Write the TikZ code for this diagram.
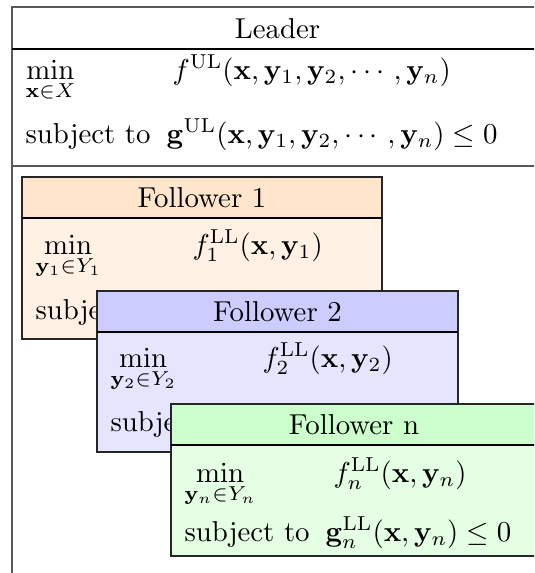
\documentclass[tikz,border=0pt]{standalone}
\usepackage{amsmath}
\usepackage{amssymb}
\usepackage{bm}

\begin{document}
\begin{tikzpicture}[
  x=0.347pt, y=-0.347pt,
  every node/.style={font=\normalsize, inner sep=0pt},
  lead/.style={draw=black!65, line width=0.7pt},
  rule/.style={draw=black, line width=0.4pt},
  fol/.style={draw=black!85, line width=0.5pt},
  orHead/.style={fill=orange!20}, orBody/.style={fill=orange!10},
  blHead/.style={fill=blue!20},   blBody/.style={fill=blue!10},
  grHead/.style={fill=green!20},  grBody/.style={fill=green!10},
  ttl/.style={anchor=base},
  lbl/.style={anchor=base west}
]

\useasboundingbox (0,0) rectangle (534,573);
\clip (0,0) rectangle (534,573);

% leader
\draw[lead] (12,620) -- (12,7) -- (543,7) -- (543,620);
\draw[rule] (12,49) -- (543,49);
\draw[lead] (12,166) -- (543,166);

\node[ttl] (lead)  at (277.5,38) {Leader};
\node[lbl] (lmin)  at (25,79)   {$\min\limits_{\mathbf{x}\in X}$};
\node[lbl] (lobj)  at (172,79)  {$f^{\mathrm{UL}}(\mathbf{x},\mathbf{y}_1,\mathbf{y}_2,\cdots,\mathbf{y}_n)$};
\node[lbl] (lsub)  at (25,143)  {subject to};
\node[lbl] (lcon)  at (166,143) {$\mathbf{g}^{\mathrm{UL}}(\mathbf{x},\mathbf{y}_1,\mathbf{y}_2,\cdots,\mathbf{y}_n)\leq 0$};

% follower 1
\path[orBody] (22,218) rectangle (382,339);
\path[orHead] (22,177) rectangle (382,218);
\draw[fol]  (22,177) rectangle (382,339);
\draw[rule] (22,218) -- (382,218);

\node[ttl] (fa)    at (202,207) {Follower 1};
\node[lbl] (famin) at (35,254)  {$\min\limits_{\mathbf{y}_1\in Y_1}$};
\node[lbl] (faobj) at (192,254) {$f_1^{\mathrm{LL}}(\mathbf{x},\mathbf{y}_1)$};
\node[lbl] (fasub) at (35,319)  {subject to};

% follower 2
\path[blBody] (97,332) rectangle (458,452);
\path[blHead] (97,291) rectangle (458,332);
\draw[fol]  (97,291) rectangle (458,452);
\draw[rule] (97,332) -- (458,332);

\node[ttl] (fb)    at (277.5,321) {Follower 2};
\node[lbl] (fbmin) at (110,367)   {$\min\limits_{\mathbf{y}_2\in Y_2}$};
\node[lbl] (fbobj) at (262,367)   {$f_2^{\mathrm{LL}}(\mathbf{x},\mathbf{y}_2)$};
\node[lbl] (fbsub) at (110,431)   {subject to};

% follower n
\path[grBody] (171,445) rectangle (537,556);
\path[grHead] (171,404) rectangle (537,445);
\draw[fol]  (171,404) rectangle (537,556);
\draw[rule] (171,445) -- (537,445);

\node[ttl] (fn)    at (354,434) {Follower n};
\node[lbl] (fnmin) at (184,482) {$\min\limits_{\mathbf{y}_n\in Y_n}$};
\node[lbl] (fnobj) at (333,482) {$f_n^{\mathrm{LL}}(\mathbf{x},\mathbf{y}_n)$};
\node[lbl] (fnsub) at (184,541) {subject to};
\node[lbl] (fncon) at (325,541) {$\mathbf{g}_n^{\mathrm{LL}}(\mathbf{x},\mathbf{y}_n)\leq 0$};

\end{tikzpicture}
\end{document}
